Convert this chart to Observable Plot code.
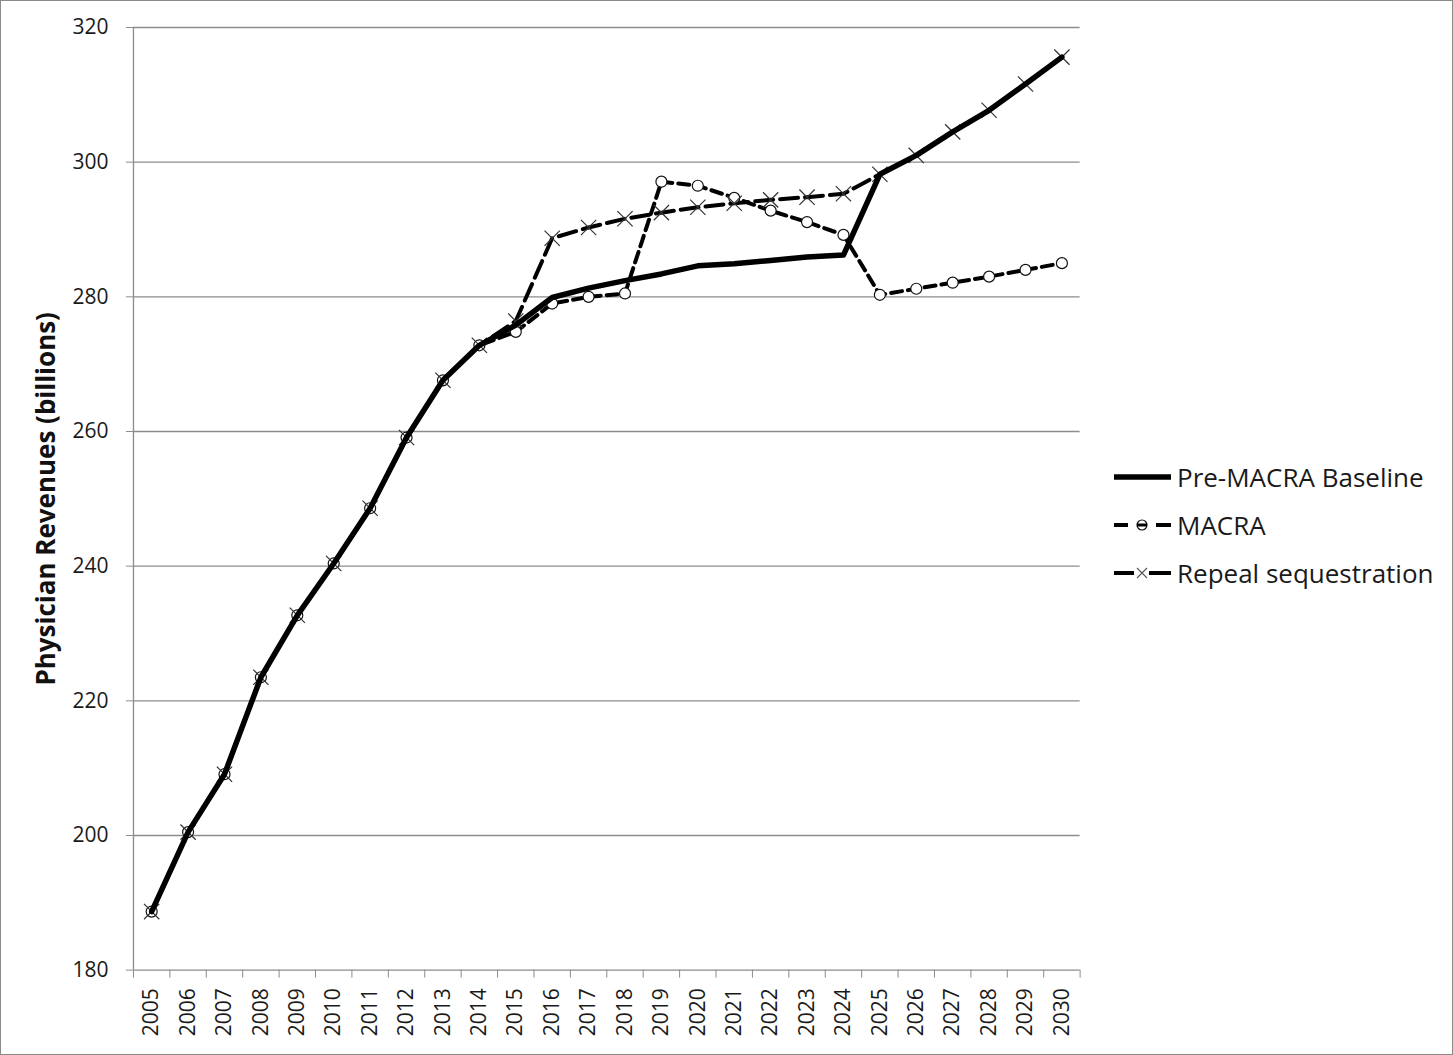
<!DOCTYPE html>
<html>
<head>
<meta charset="utf-8">
<script src="https://cdn.jsdelivr.net/npm/d3@7"></script>
<script src="https://cdn.jsdelivr.net/npm/@observablehq/plot@0.6"></script>
<style>
  body { margin: 0; background: #fff; }
  #wrap { position: relative; width: 1453px; height: 1055px; box-sizing: border-box; border: 1.5px solid #8a8a8a; overflow: hidden; font-family: "Open Sans", sans-serif; }
  #chart { position: absolute; left: -1.5px; top: -1.5px; }
  #chart svg [aria-label="y-axis label"] text { font-weight: bold; font-size: 26px !important; fill: #111; }
  #legend { position: absolute; left: 1111px; top: 452px; }
  .row { display: flex; align-items: center; height: 48px; font-size: 26px; color: #1a1a1a; }
  .row svg { margin-right: 4px; }
</style>
</head>
<body>
<div id="wrap">
  <div id="chart"></div>
  <div id="legend"></div>
</div>
<script>
const years = [2005, 2006, 2007, 2008, 2009, 2010, 2011, 2012, 2013, 2014, 2015, 2016, 2017,
               2018, 2019, 2020, 2021, 2022, 2023, 2024, 2025, 2026, 2027, 2028, 2029, 2030];
const baseline = [188.7, 200.5, 209.1, 223.5, 232.7, 240.4, 248.6, 259.1, 267.6, 272.8, 275.8, 279.9, 281.3,
                  282.4, 283.4, 284.6, 284.9, 285.4, 285.9, 286.2, 298.2, 301.0, 304.5, 307.7, 311.6, 315.6];
const macra = [188.7, 200.5, 209.1, 223.5, 232.7, 240.4, 248.6, 259.1, 267.6, 272.8, 274.8, 279.0, 280.0,
               280.5, 297.1, 296.5, 294.7, 292.8, 291.1, 289.2, 280.3, 281.2, 282.1, 283.0, 284.0, 285.0];
const repeal = [188.7, 200.5, 209.1, 223.5, 232.7, 240.4, 248.6, 259.1, 267.6, 272.8, 276.4, 288.7, 290.3,
                291.6, 292.5, 293.3, 293.9, 294.4, 294.8, 295.3, 298.2, 301.0, 304.5, 307.7, 311.6, 315.6];
const seriesNames = ["Pre-MACRA Baseline", "MACRA", "Repeal sequestration"];
const yTicks = [180, 200, 220, 240, 260, 280, 300, 320];
const yLabel = "Physician Revenues (billions)";

const rows = (vals) => years.map((y, i) => ({year: y, value: vals[i]}));
const dBase = rows(baseline), dMacra = rows(macra), dRepeal = rows(repeal);
const bounds = years.map(y => y - 0.5).concat([years[years.length - 1] + 0.5]);
const xDomain = [bounds[0], bounds[bounds.length - 1]];
const gray = "#8c8c8c";

const chart = Plot.plot({
  width: 1453,
  height: 1055,
  marginLeft: 133,
  marginRight: 373,
  marginTop: 27,
  marginBottom: 85,
  style: {fontFamily: "'Open Sans', sans-serif", fontSize: "21px", color: "#1a1a1a", background: "transparent"},
  x: {type: "linear", domain: xDomain},
  y: {domain: [yTicks[0], yTicks[yTicks.length - 1]]},
  marks: [
    Plot.gridY(yTicks, {stroke: gray, strokeOpacity: 1, strokeWidth: 1.3}),
    Plot.ruleX([xDomain[0]], {stroke: gray, strokeWidth: 1.3}),
    Plot.axisY({ticks: yTicks, tickSize: 7, tickPadding: 18, stroke: gray, fontSize: 21, label: yLabel, labelAnchor: "center", labelArrow: "none", labelOffset: 97}),
    Plot.axisX({ticks: bounds, tickSize: 8, tickFormat: () => "", stroke: gray, label: null}),
    Plot.axisX({ticks: years, tickSize: 0, tickPadding: 18, tickRotate: -90, fontSize: 21, tickFormat: d => String(d), label: null}),
    Plot.line(dMacra, {x: "year", y: "value", stroke: "black", strokeWidth: 4, strokeDasharray: "11,6"}),
    Plot.line(dRepeal, {x: "year", y: "value", stroke: "black", strokeWidth: 4, strokeDasharray: "18,7"}),
    Plot.dot(dMacra, {x: "year", y: "value", symbol: "circle", r: 5.5, fill: "white", stroke: "#111", strokeWidth: 1.2}),
    Plot.dot(dRepeal, {x: "year", y: "value", symbol: "times", r: 7, stroke: "#333", strokeWidth: 1.2}),
    Plot.line(dBase, {x: "year", y: "value", stroke: "black", strokeWidth: 5.5, strokeLinejoin: "round"})
  ]
});
document.getElementById("chart").appendChild(chart);

// Legend
const legend = document.getElementById("legend");
const swatch = (kind) => {
  const ns = "http://www.w3.org/2000/svg";
  const s = document.createElementNS(ns, "svg");
  s.setAttribute("width", 61); s.setAttribute("height", 20);
  const seg = (x1, x2, w) => {
    const l = document.createElementNS(ns, "line");
    l.setAttribute("x1", x1); l.setAttribute("x2", x2); l.setAttribute("y1", 10); l.setAttribute("y2", 10);
    l.setAttribute("stroke", "black"); l.setAttribute("stroke-width", w);
    s.appendChild(l);
  };
  if (kind === 0) { seg(2, 59, 5.5); }
  else if (kind === 1) {
    seg(2, 16, 4); seg(44, 59, 4);
    const c = document.createElementNS(ns, "circle");
    c.setAttribute("cx", 30); c.setAttribute("cy", 10); c.setAttribute("r", 5);
    c.setAttribute("fill", "white"); c.setAttribute("stroke", "#111"); c.setAttribute("stroke-width", 1.2);
    s.appendChild(c);
    seg(25, 35, 3);
  } else {
    seg(2, 22, 4); seg(37, 59, 4);
    const p = document.createElementNS(ns, "path");
    p.setAttribute("d", "M25,5L35,15M25,15L35,5");
    p.setAttribute("stroke", "#555"); p.setAttribute("stroke-width", 1.1);
    s.appendChild(p);
  }
  return s;
};
seriesNames.forEach((name, i) => {
  const row = document.createElement("div");
  row.className = "row";
  row.appendChild(swatch(i));
  const t = document.createElement("span");
  t.textContent = name;
  row.appendChild(t);
  legend.appendChild(row);
});
</script>
</body>
</html>
